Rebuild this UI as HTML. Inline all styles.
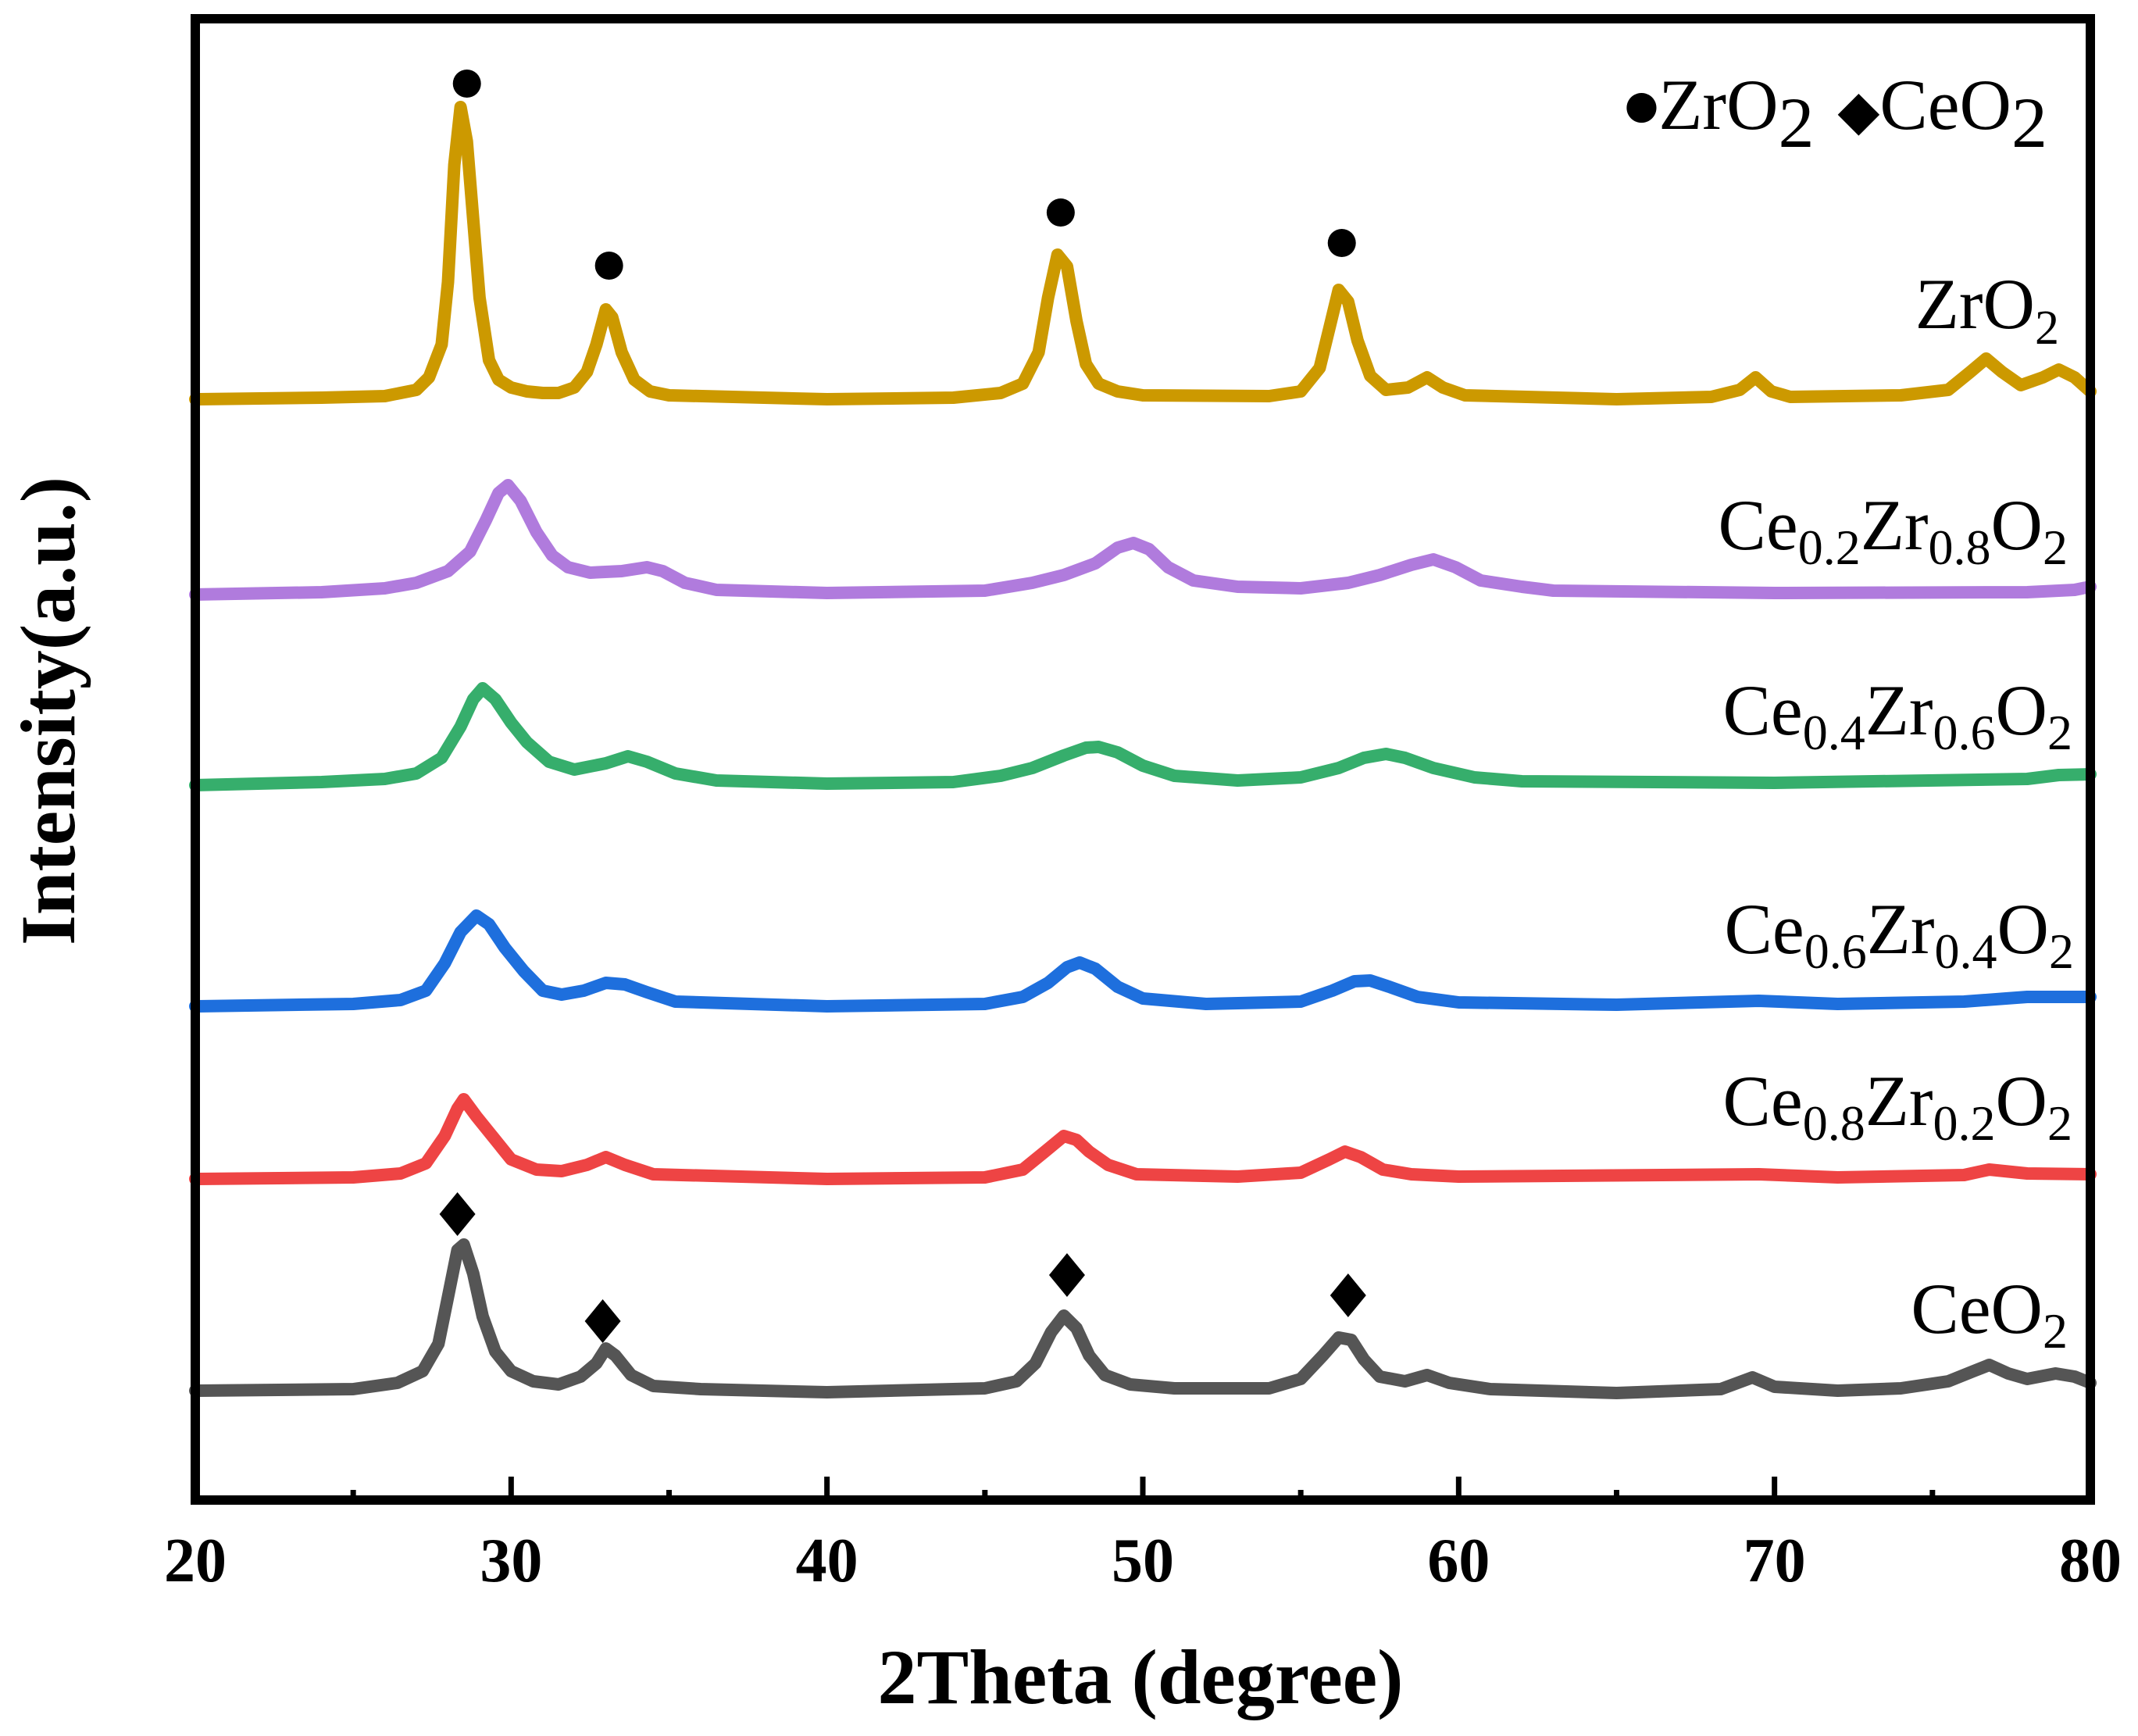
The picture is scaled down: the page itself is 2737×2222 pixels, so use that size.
<!DOCTYPE html>
<html><head><meta charset="utf-8"><style>
html,body{margin:0;padding:0;background:#fff;}
svg{display:block;font-family:"Liberation Serif","DejaVu Serif",serif;}
</style></head><body>
<svg id="chart" xmlns="http://www.w3.org/2000/svg" width="2737" height="2222" viewBox="0 0 2737 2222">
<g id="series-layer"></g>
<g id="marker-layer"></g>
<rect x="250" y="24" width="2426" height="1896" fill="none" stroke="#000" stroke-width="12"/>
<g id="tick-layer"></g>
<text x="1460" y="2180" font-size="100" font-weight="bold" text-anchor="middle">2Theta (degree)</text>
<text transform="translate(95,910) rotate(-90)" font-size="100" font-weight="bold" text-anchor="middle">Intensity(a.u.)</text>
<text x="2621" y="165" font-size="92" text-anchor="end"><tspan font-family="DejaVu Sans, sans-serif" font-size="50" dy="-14">●</tspan><tspan dy="14">ZrO</tspan><tspan dy="23">2</tspan><tspan dy="-23" dx="30" font-family="DejaVu Sans, sans-serif" font-size="70">◆</tspan>CeO<tspan dy="23">2</tspan></text>
<text x="2636" y="420" font-size="92" text-anchor="end">ZrO<tspan dy="20" font-size="62">2</tspan></text>
<text x="2647" y="703" font-size="92" text-anchor="end">Ce<tspan dy="19" font-size="64">0.2</tspan><tspan dy="-19">Zr</tspan><tspan dy="19" font-size="64">0.8</tspan><tspan dy="-19">O</tspan><tspan dy="19" font-size="64">2</tspan></text>
<text x="2653" y="940" font-size="92" text-anchor="end">Ce<tspan dy="19" font-size="64">0.4</tspan><tspan dy="-19">Zr</tspan><tspan dy="19" font-size="64">0.6</tspan><tspan dy="-19">O</tspan><tspan dy="19" font-size="64">2</tspan></text>
<text x="2655" y="1220" font-size="92" text-anchor="end">Ce<tspan dy="19" font-size="64">0.6</tspan><tspan dy="-19">Zr</tspan><tspan dy="19" font-size="64">0.4</tspan><tspan dy="-19">O</tspan><tspan dy="19" font-size="64">2</tspan></text>
<text x="2653" y="1440" font-size="92" text-anchor="end">Ce<tspan dy="19" font-size="64">0.8</tspan><tspan dy="-19">Zr</tspan><tspan dy="19" font-size="64">0.2</tspan><tspan dy="-19">O</tspan><tspan dy="19" font-size="64">2</tspan></text>
<text x="2647" y="1706" font-size="92" text-anchor="end">CeO<tspan dy="19" font-size="64">2</tspan></text>
</svg>
<script>
// ---- data (intensity in a.u., 1 unit = 1 px) ----
const seriesNames = ["ZrO2","Ce0.2Zr0.8O2","Ce0.4Zr0.6O2","Ce0.6Zr0.4O2","Ce0.8Zr0.2O2","CeO2"];
const seriesColors = ["#CC9900","#B07BDD","#36AE6C","#1E6FDD","#EE4444","#555555"];
const seriesOffsets = [1409,1159,915,632,411,140];
const zro2Data = [[20,0],[24,2],[26,4],[26.5,8],[27,12],[27.4,28],[27.8,70],[28.0,150],[28.2,300],[28.4,374],[28.6,330],[28.8,230],[29.0,130],[29.3,50],[29.6,25],[30,15],[30.5,10],[31,8],[31.5,8],[32,15],[32.4,35],[32.7,70],[33.0,115],[33.2,105],[33.5,60],[33.9,25],[34.4,10],[35,5],[40,0],[44,2],[45.5,8],[46.2,20],[46.7,60],[47.0,130],[47.3,185],[47.6,170],[47.9,100],[48.2,45],[48.6,20],[49.2,10],[50,5],[54,4],[55,10],[55.6,40],[55.9,90],[56.2,140],[56.5,125],[56.8,75],[57.2,30],[57.7,12],[58.4,15],[59.0,28],[59.5,15],[60.2,5],[65,0],[68,3],[68.9,12],[69.4,28],[69.9,10],[70.5,3],[74,5],[75.5,12],[76.2,35],[76.7,52],[77.2,35],[77.8,18],[78.5,28],[79.0,38],[79.5,28],[80,10]];
const ce02Data = [[20,0],[24,3],[26,8],[27,15],[28,30],[28.7,55],[29.2,95],[29.6,130],[29.9,140],[30.3,120],[30.8,80],[31.3,50],[31.8,35],[32.5,28],[33.5,30],[34.3,35],[34.8,30],[35.5,15],[36.5,6],[40,2],[45,5],[46.5,15],[47.5,25],[48.5,40],[49.2,60],[49.7,66],[50.2,58],[50.8,35],[51.6,18],[53,10],[55,8],[56.5,15],[57.5,25],[58.5,38],[59.2,45],[59.9,35],[60.7,18],[62,10],[63,5],[70,2],[78,3],[79.5,6],[80,10]];
const ce04Data = [[20,0],[24,4],[26,8],[27,15],[27.8,35],[28.4,75],[28.8,110],[29.1,124],[29.5,110],[30.0,80],[30.5,55],[31.2,30],[32,20],[33,28],[33.7,37],[34.3,30],[35.2,15],[36.5,6],[40,2],[44,4],[45.5,12],[46.5,22],[47.5,38],[48.2,48],[48.6,49],[49.2,42],[50,25],[51,12],[53,6],[55,10],[56.2,22],[57,35],[57.7,40],[58.3,35],[59.2,22],[60.5,10],[62,5],[70,3],[78,8],[79,13],[80,14]];
const ce06Data = [[20,0],[25,3],[26.5,8],[27.3,20],[27.9,55],[28.4,95],[28.9,116],[29.3,105],[29.8,75],[30.4,45],[31,20],[31.6,15],[32.3,20],[33.0,30],[33.6,28],[34.3,18],[35.2,6],[40,0],[45,3],[46.2,12],[47.0,30],[47.6,50],[48.0,56],[48.5,48],[49.2,25],[50,10],[52,3],[55,6],[56.0,20],[56.7,32],[57.2,33],[57.8,25],[58.7,12],[60,5],[65,2],[69.5,7],[72,3],[76,6],[78,12],[80,12]];
const ce08Data = [[20,0],[25,2],[26.5,7],[27.3,20],[27.9,55],[28.3,90],[28.5,102],[28.9,80],[29.4,55],[30,25],[30.8,12],[31.6,10],[32.4,18],[33.0,28],[33.6,18],[34.5,6],[40,0],[45,2],[46.2,12],[46.9,35],[47.5,55],[47.9,50],[48.3,35],[48.9,18],[49.8,6],[53,3],[55,8],[55.9,25],[56.4,35],[56.9,28],[57.6,12],[58.5,6],[60,3],[69.5,6],[72,2],[76,5],[76.8,12],[78,7],[80,6]];
const ceo2Data = [[20,0],[25,2],[26.4,10],[27.2,25],[27.7,60],[28.0,120],[28.3,180],[28.5,187],[28.8,150],[29.1,95],[29.5,50],[30,25],[30.7,12],[31.5,8],[32.2,18],[32.7,35],[33.0,54],[33.3,45],[33.8,20],[34.5,6],[36,2],[40,-2],[45,3],[46.0,12],[46.6,35],[47.1,75],[47.5,96],[47.9,80],[48.3,45],[48.8,20],[49.6,8],[51,3],[54,3],[55.0,15],[55.7,45],[56.2,68],[56.6,65],[57.0,40],[57.5,18],[58.3,12],[59.0,20],[59.7,10],[61,2],[65,-3],[68.3,2],[69.3,17],[70,5],[72,0],[74,3],[75.5,12],[76.3,25],[76.8,33],[77.4,22],[78,15],[78.9,22],[79.5,18],[80,10]];
const zro2Markers = [[28.6,404],[33.1,171],[47.4,239],[56.3,200]];
const ceo2Markers = [[28.3,226],[32.9,89],[47.6,148],[56.5,122]];
const xTicksMajor = [20,30,40,50,60,70,80];
const xTicksMinor = [25,35,45,55,65,75];
const xTickLabels = ["20","30","40","50","60","70","80"];
// ---- axes ----
const X0=250, X1=2676, YB=1920;
function xScale(t){ return X0 + (t-20)/(80-20)*(X1-X0); }
function yScale(v, off){ return YB - (v + off); }
const NS="http://www.w3.org/2000/svg";
const allData=[zro2Data,ce02Data,ce04Data,ce06Data,ce08Data,ceo2Data];
const sl=document.getElementById('series-layer');
allData.forEach(function(d,i){
  const p=document.createElementNS(NS,'polyline');
  p.setAttribute('points', d.map(function(q){return xScale(q[0]).toFixed(1)+','+yScale(q[1],seriesOffsets[i]).toFixed(1);}).join(' '));
  p.setAttribute('fill','none');
  p.setAttribute('stroke',seriesColors[i]);
  p.setAttribute('stroke-width','16');
  p.setAttribute('stroke-linejoin','round');
  p.setAttribute('stroke-linecap','round');
  
  
  sl.appendChild(p);
});
const ml=document.getElementById('marker-layer');
zro2Markers.forEach(function(m){
  const c=document.createElementNS(NS,'circle');
  c.setAttribute('cx',xScale(m[0]));
  c.setAttribute('cy',yScale(m[1],seriesOffsets[0]));
  c.setAttribute('r','18');
  c.setAttribute('fill','#000');
  
  
  ml.appendChild(c);
});
ceo2Markers.forEach(function(m){
  const x=xScale(m[0]), y=yScale(m[1],seriesOffsets[5]);
  const p=document.createElementNS(NS,'polygon');
  p.setAttribute('points', x+','+(y-28)+' '+(x+23)+','+y+' '+x+','+(y+28)+' '+(x-23)+','+y);
  p.setAttribute('fill','#000');
  
  
  ml.appendChild(p);
});
const tl=document.getElementById('tick-layer');
xTicksMajor.forEach(function(t,i){
  const l=document.createElementNS(NS,'line');
  l.setAttribute('x1',xScale(t)); l.setAttribute('x2',xScale(t));
  l.setAttribute('y1',YB); l.setAttribute('y2',YB-30);
  l.setAttribute('stroke','#000'); l.setAttribute('stroke-width','7');
  
  
  tl.appendChild(l);
  const tx=document.createElementNS(NS,'text');
  tx.setAttribute('x',xScale(t)); tx.setAttribute('y','2024');
  tx.setAttribute('font-size','80'); tx.setAttribute('font-weight','bold');
  tx.setAttribute('text-anchor','middle');
  tx.textContent=xTickLabels[i];
  
  
  tl.appendChild(tx);
});
xTicksMinor.forEach(function(t){
  const l=document.createElementNS(NS,'line');
  l.setAttribute('x1',xScale(t)); l.setAttribute('x2',xScale(t));
  l.setAttribute('y1',YB); l.setAttribute('y2',YB-13);
  l.setAttribute('stroke','#000'); l.setAttribute('stroke-width','7');
  
  
  tl.appendChild(l);
});
</script>
</body></html>
